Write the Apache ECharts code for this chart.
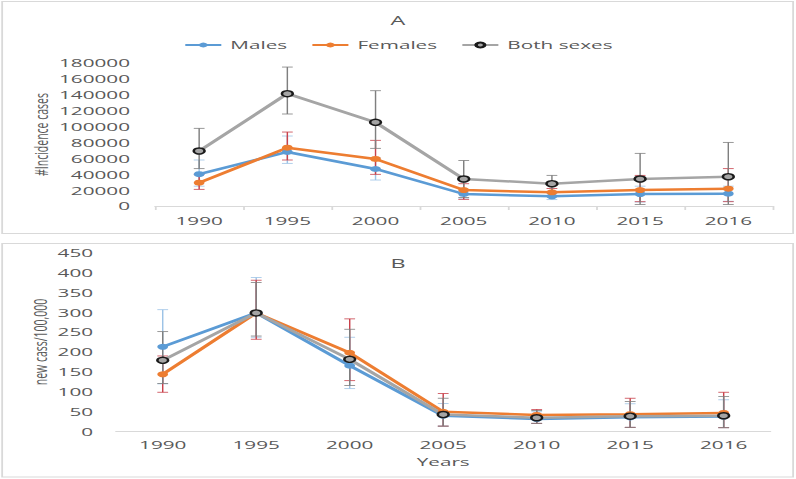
<!DOCTYPE html>
<html>
<head>
<meta charset="utf-8">
<script src="https://cdn.jsdelivr.net/npm/echarts@6/dist/echarts.min.js"></script>
<style>
html,body{margin:0;padding:0;background:#fff;overflow:hidden;width:796px;height:479px;}
#wrap{width:796px;height:479px;overflow:hidden;}
#chart{width:442px;height:479px;transform:scaleX(1.8009);transform-origin:0 0;}
</style>
</head>
<body>
<div id="wrap"><div id="chart"></div></div>
<script>
// ---- data ----
const years = ['1990', '1995', '2000', '2005', '2010', '2015', '2016'];
const seriesNames = ['Males', 'Females', 'Both sexes'];

// Panel A: #Incidence cases
const aMales      = [40000, 68000, 46600, 15100, 12200, 15000, 15500];
const aFemales    = [29300, 73400, 59200, 20100, 17200, 20100, 21800];
const aBoth       = [69200, 141400, 105300, 34000, 28100, 34000, 36900];
const aMalesLow   = [25000, 53700, 32700, 10000, 8000, 5000, 6000];
const aMalesHigh  = [57900, 88100, 60500, 20000, 16000, 25000, 25000];
const aFemLow     = [21000, 57900, 39900, 8400, 12000, 5400, 5400];
const aFemHigh    = [40000, 93100, 82700, 28000, 22000, 38600, 47000];
const aBothLow    = [47000, 115800, 72600, 10600, 17600, 2000, 2000];
const aBothHigh   = [97800, 174900, 145100, 57400, 38600, 66300, 80100];

// Panel B: new cases / 100,000
const bMales      = [213, 298, 165.5, 40, 32, 36, 38];
const bFemales    = [144, 298, 198, 50, 42, 44, 47];
const bBoth       = [179, 298, 181.5, 43, 35, 39, 40];
const bMalesLow   = [120, 237, 108, 14, 21, 11, 10];
const bMalesHigh  = [306, 387, 237, 71, 50, 70, 80];
const bFemLow     = [99, 232, 128, 14, 21, 11, 10];
const bFemHigh    = [190, 380, 283, 96, 56, 84, 99];
const bBothLow    = [121, 240, 116, 14, 21, 11, 10];
const bBothHigh   = [251, 374, 257, 84, 53, 76, 88];

// ---- styling ----
const FONT = 'Open Sans';
const TXT = '#595959';
const C_M = '#5B9BD5', C_F = '#ED7D31', C_B = '#A5A5A5';
const E_M = '#9DC3E6', E_F = '#C8414B', E_B = '#7F7F7F';

function errSeries(name, grid, low, high, color) {
  return {
    type: 'custom', name: name, xAxisIndex: grid, yAxisIndex: grid, z: 1,
    silent: true,
    data: years.map((y, i) => [i, low[i], high[i]]),
    encode: { x: 0, y: [1, 2] },
    renderItem: function (params, api) {
      const x = api.value(0);
      const lo = api.coord([x, api.value(1)]);
      const hi = api.coord([x, api.value(2)]);
      const w = 3;
      const st = { stroke: color, lineWidth: 0.8 };
      return { type: 'group', children: [
        { type: 'line', shape: { x1: lo[0], y1: lo[1], x2: hi[0], y2: hi[1] }, style: st },
        { type: 'line', shape: { x1: hi[0] - w, y1: hi[1], x2: hi[0] + w, y2: hi[1] }, style: st },
        { type: 'line', shape: { x1: lo[0] - w, y1: lo[1], x2: lo[0] + w, y2: lo[1] }, style: st }
      ]};
    }
  };
}

function lineSeries(name, grid, data, color, both) {
  return {
    type: 'line', name: name, xAxisIndex: grid, yAxisIndex: grid, z: 3,
    data: data, symbol: 'circle', symbolSize: 6,
    lineStyle: { color: color, width: 2.5 },
    itemStyle: both ? { color: color, borderColor: '#1a1a1a', borderWidth: 1.4 } : { color: color },
    emphasis: { disabled: true }
  };
}

const chart = echarts.init(document.getElementById('chart'), null, { renderer: 'svg' });

const xAxisBase = {
  type: 'category', data: years, boundaryGap: true,
  axisLine: { lineStyle: { color: '#D9D9D9', width: 1 } },
  axisLabel: { color: TXT, fontFamily: FONT, fontSize: 11.5 },
  splitLine: { show: false }
};
const yAxisBase = {
  type: 'value', min: 0,
  axisLine: { show: false }, axisTick: { show: false }, splitLine: { show: false },
  axisLabel: { color: TXT, fontFamily: FONT, fontSize: 11.5, formatter: function (v) { return String(v); } },
  nameLocation: 'middle', nameMoveOverlap: false,
  nameTextStyle: { color: TXT, fontFamily: FONT, fontSize: 10.5 }
};

chart.setOption({
  backgroundColor: '#fff',
  animation: false,
  title: [
    { text: 'A', left: 'center', top: 9, textStyle: { color: TXT, fontFamily: FONT, fontSize: 13, fontWeight: 'normal' } },
    { text: 'B', left: 'center', top: 252, textStyle: { color: TXT, fontFamily: FONT, fontSize: 13, fontWeight: 'normal' } }
  ],
  legend: {
    data: seriesNames, left: 'center', top: 34,
    itemWidth: 20, itemHeight: 6, itemGap: 13,
    textStyle: { color: TXT, fontFamily: FONT, fontSize: 11.5 }
  },
  graphic: [
    { type: 'rect', shape: { x: 1.2, y: 1.5, width: 439.2, height: 232 }, style: { fill: 'none', stroke: '#D9D9D9', lineWidth: 1 }, silent: true, z: -1 },
    { type: 'rect', shape: { x: 1.2, y: 243.5, width: 439.2, height: 233.5 }, style: { fill: 'none', stroke: '#D9D9D9', lineWidth: 1 }, silent: true, z: -1 }
  ],
  grid: [
    { left: 86.1, right: 13.1, top: 63, bottom: 273, containLabel: false },
    { left: 64.4, right: 14.2, top: 252.3, bottom: 47.3, containLabel: false }
  ],
  xAxis: [
    Object.assign({}, xAxisBase, { gridIndex: 0,
      axisTick: { show: true, length: 4, lineStyle: { color: '#D9D9D9' } },
      axisLabel: Object.assign({}, xAxisBase.axisLabel, { margin: 9 }) }),
    Object.assign({}, xAxisBase, { gridIndex: 1,
      axisTick: { show: false },
      axisLabel: Object.assign({}, xAxisBase.axisLabel, { margin: 7 }),
      name: 'Years', nameLocation: 'middle', nameGap: 24, nameMoveOverlap: false,
      nameTextStyle: { color: TXT, fontFamily: FONT, fontSize: 11.5 } })
  ],
  yAxis: [
    Object.assign({}, yAxisBase, { gridIndex: 0, max: 180000, interval: 20000,
      name: '#Incidence cases', nameGap: 58,
      axisLabel: Object.assign({}, yAxisBase.axisLabel, { margin: 13.9 }) }),
    Object.assign({}, yAxisBase, { gridIndex: 1, max: 450, interval: 50,
      name: 'new cass/100,000', nameGap: 37,
      axisLabel: Object.assign({}, yAxisBase.axisLabel, { margin: 12.7 }) })
  ],
  series: [
    errSeries('eAm', 0, aMalesLow, aMalesHigh, E_M),
    errSeries('eAf', 0, aFemLow, aFemHigh, E_F),
    errSeries('eAb', 0, aBothLow, aBothHigh, E_B),
    lineSeries('Males', 0, aMales, C_M, false),
    lineSeries('Females', 0, aFemales, C_F, false),
    lineSeries('Both sexes', 0, aBoth, C_B, true),
    errSeries('eBm', 1, bMalesLow, bMalesHigh, E_M),
    errSeries('eBf', 1, bFemLow, bFemHigh, E_F),
    errSeries('eBb', 1, bBothLow, bBothHigh, E_B),
    lineSeries('Males', 1, bMales, C_M, false),
    lineSeries('Females', 1, bFemales, C_F, false),
    lineSeries('Both sexes', 1, bBoth, C_B, true)
  ]
});
</script>
</body>
</html>
